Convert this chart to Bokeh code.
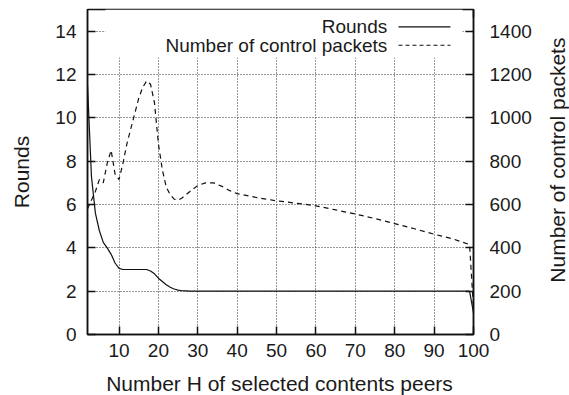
import math
from bokeh.plotting import figure
from bokeh.layouts import row, column
from bokeh.models import (Range1d, LinearAxis, FixedTicker, Label, BoxAnnotation, Arrow)
from bokeh.embed import file_html
from bokeh.resources import INLINE

# ---- data ----
rounds_x = [2, 3, 4, 5, 6, 7, 8, 9, 10, 11, 12, 13, 14, 15, 16, 17, 18, 19, 20,
            21, 22, 23, 24, 25, 26, 27, 28, 30, 40, 50, 60, 70, 80, 90, 99, 100]
rounds_y = [11.5, 7.3, 5.6, 4.8, 4.25, 4.0, 3.7, 3.3, 3.05, 3.0, 3.0, 3.0, 3.0, 3.0, 3.0, 3.0, 2.93, 2.8, 2.6,
            2.45, 2.3, 2.18, 2.1, 2.05, 2.02, 2.01, 2.0, 2.0, 2.0, 2.0, 2.0, 2.0, 2.0, 2.0, 2.0, 1.0]

packets_x = [2, 3, 4, 5, 6, 7, 8, 9, 10, 11, 12, 13, 14, 15, 16, 17, 18, 19, 20,
             21, 22, 23, 24, 25, 26, 28, 30, 32, 34, 36, 38, 40, 45, 50, 55, 60,
             65, 70, 75, 80, 85, 90, 95, 99, 100]
packets_y = [580, 620, 660, 715, 700, 790, 850, 740, 715, 790, 880, 950, 1020, 1090, 1140, 1170, 1155, 1070, 880,
             760, 680, 645, 625, 620, 630, 660, 688, 700, 700, 685, 665, 650, 632, 617, 606, 594,
             575, 556, 535, 512, 488, 463, 440, 415, 120]

x_ticks = [10, 20, 30, 40, 50, 60, 70, 80, 90, 100]
y_ticks = [0, 2, 4, 6, 8, 10, 12, 14]
y2_ticks = [0, 200, 400, 600, 800, 1000, 1200, 1400]

legend_labels = ["Rounds", "Number of control packets"]
x_label = "Number H of selected contents peers"
y_label = "Rounds"
y2_label = "Number of control packets"

FONT = "Liberation Sans"
TXT = "#1a1a1a"
LINE = "#111111"

p = figure(width=545, height=370, output_backend="svg", toolbar_location=None,
           x_range=Range1d(2, 100), y_range=Range1d(0, 15),
           min_border_left=87, min_border_right=72, min_border_top=9, min_border_bottom=36)
p.extra_y_ranges = {"pk": Range1d(0, 1500)}
p.background_fill_color = "white"
p.border_fill_color = "white"
p.outline_line_color = LINE
p.outline_line_width = 1.5

def style_axis(ax, standoff):
    ax.major_tick_in = 8
    ax.major_tick_out = 0
    ax.minor_tick_in = 0
    ax.minor_tick_out = 0
    ax.major_tick_line_color = LINE
    ax.major_tick_line_width = 1.5
    ax.axis_line_color = LINE
    ax.axis_line_width = 1.5
    ax.major_label_text_font = FONT
    ax.major_label_text_font_size = "19px"
    ax.major_label_text_color = TXT
    ax.major_label_standoff = standoff
    ax.axis_label_text_font = FONT
    ax.axis_label_text_font_size = "21px"
    ax.axis_label_text_font_style = "normal"
    ax.axis_label_text_color = TXT

xa = p.xaxis[0]
xa.ticker = FixedTicker(ticks=x_ticks)
style_axis(xa, 9)

ya = p.yaxis[0]
ya.ticker = FixedTicker(ticks=y_ticks)
style_axis(ya, 11)
ya.axis_label = y_label
ya.axis_label_standoff = 19

ya2 = LinearAxis(y_range_name="pk", ticker=FixedTicker(ticks=y2_ticks))
style_axis(ya2, 16)
p.add_layout(ya2, "right")

xtop = LinearAxis(ticker=FixedTicker(ticks=x_ticks))
style_axis(xtop, 0)
xtop.major_label_text_font_size = "1px"
xtop.major_label_text_alpha = 0
xtop.axis_line_color = None
p.add_layout(xtop, "above")

for g in (p.xgrid[0], p.ygrid[0]):
    g.grid_line_color = "#333333"
    g.grid_line_dash = "1 2"
    g.grid_line_width = 1
p.xgrid[0].ticker = FixedTicker(ticks=[10, 20, 30, 40, 50, 60, 70, 80, 90])
p.ygrid[0].ticker = FixedTicker(ticks=[2, 4, 6, 8, 10, 12, 14])

p.line(rounds_x, rounds_y, line_color=LINE, line_width=1.2)
p.line(packets_x, packets_y, y_range_name="pk", line_color=LINE, line_width=1.2, line_dash="5 4")

# opaque key box (covers grid like gnuplot's key)
p.add_layout(BoxAnnotation(left=6.57, right=97.2, bottom=12.78, top=15,
                           fill_color="white", fill_alpha=1.0, line_color=None))

for lab, yy, dash in [(legend_labels[0], 14.20, "solid"), (legend_labels[1], 13.35, "4 3")]:
    p.add_layout(Label(x=78.1, y=yy, text=lab, text_align="right", text_baseline="middle",
                       text_font=FONT, text_font_size="19px", text_color=TXT))
    p.add_layout(Arrow(end=None, x_start=80.95, x_end=94.15, y_start=yy, y_end=yy,
                       line_color=LINE, line_width=1.2, line_dash=dash))


def text_strip(w, h):
    f = figure(width=w, height=h, output_backend="svg", toolbar_location=None,
               x_range=Range1d(0, w), y_range=Range1d(0, h),
               x_axis_location=None, y_axis_location=None, min_border=0)
    f.outline_line_color = None
    f.grid.visible = False
    f.background_fill_color = "white"
    f.border_fill_color = "white"
    return f

# right-hand axis title, reading upwards like the reference
rfig = text_strip(24, 370)
rfig.add_layout(Label(x=12.0, y=198.5, text=y2_label, text_align="center", text_baseline="middle",
                      angle=math.pi / 2, text_font=FONT, text_font_size="21px", text_color=TXT))

# bottom axis title
xfig = text_strip(569, 25)
xfig.add_layout(Label(x=279, y=12, text=x_label, text_align="center", text_baseline="middle",
                      text_font=FONT, text_font_size="21px", text_color=TXT))

layout = column(row(p, rfig), xfig)
open("out.html", "w").write(file_html(layout, INLINE))
